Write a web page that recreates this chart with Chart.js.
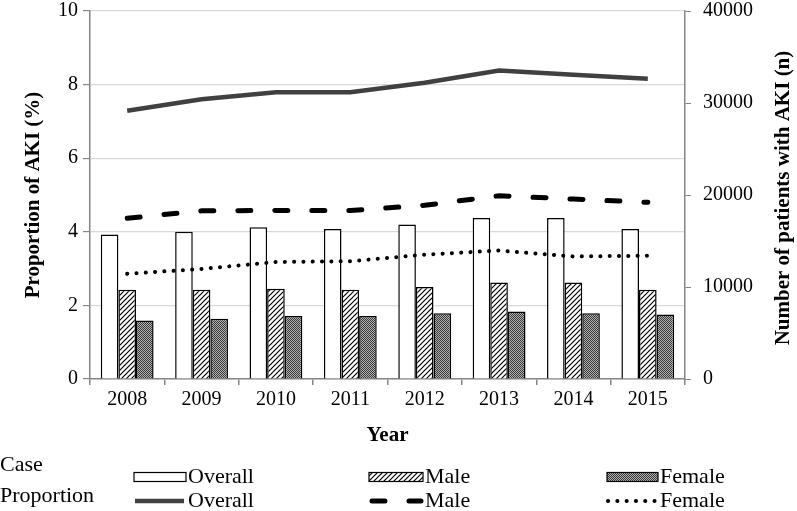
<!DOCTYPE html>
<html>
<head>
<meta charset="utf-8">
<script src="https://cdn.jsdelivr.net/npm/chart.js@4.4.1/dist/chart.umd.min.js"></script>
<style>
    html, body { margin: 0; padding: 0; background: #fff; }
    #wrap { width: 797px; height: 511px; }
</style>
</head>
<body>
<div id="wrap"><canvas id="akiChart" width="797" height="511"></canvas></div>
<script>
// Data
const years = ["2008", "2009", "2010", "2011", "2012", "2013", "2014", "2015"];

// Number of cases (right axis)
const caseOverall = [15700, 16000, 16500, 16300, 16800, 17500, 17500, 16300];
const caseMale = [9700, 9700, 9800, 9700, 10000, 10500, 10500, 9700];
const caseFemale = [6350, 6550, 6850, 6850, 7150, 7350, 7150, 7000];

// Proportion of AKI in % (left axis)
const propOverall = [7.29, 7.6, 7.79, 7.79, 8.05, 8.38, 8.27, 8.16];
const propMale = [4.37, 4.57, 4.58, 4.58, 4.72, 4.98, 4.89, 4.8];
const propFemale = [2.86, 2.99, 3.18, 3.2, 3.38, 3.49, 3.33, 3.35];

const legendRows = ["Case", "Proportion"];
const legendNames = ["Overall", "Male", "Female"];

const serif = '"Liberation Serif", "Times New Roman", serif';
const axisGray = "#868686";

// Motifs pour les barres
function hatchPattern(ctx) {
    const c = document.createElement("canvas");
    c.width = 5; c.height = 5;
    const g = c.getContext("2d");
    g.fillStyle = "#fff";
    g.fillRect(0, 0, 5, 5);
    g.strokeStyle = "#000";
    g.lineWidth = 1.2;
    g.beginPath();
    g.moveTo(-1, 6); g.lineTo(6, -1);
    g.moveTo(-3.5, 3.5); g.lineTo(3.5, -3.5);
    g.moveTo(1.5, 8.5); g.lineTo(8.5, 1.5);
    g.stroke();
    return ctx.createPattern(c, "repeat");
}

function checkerPattern(ctx) {
    const c = document.createElement("canvas");
    c.width = 2; c.height = 2;
    const g = c.getContext("2d");
    g.fillStyle = "#b0b0b0";
    g.fillRect(0, 0, 2, 2);
    g.fillStyle = "#3a3a3a";
    g.fillRect(0, 0, 1, 1);
    g.fillRect(1, 1, 1, 1);
    return ctx.createPattern(c, "repeat");
}

// Legenda e titolo asse destro disegnati a mano
const extrasPlugin = {
    id: "extras",
    afterDraw(chart) {
        const ctx = chart.ctx;
        const ds = chart.data.datasets;
        ctx.save();
        ctx.fillStyle = "#000";
        ctx.textBaseline = "middle";

        // right axis title, reading bottom to top
        ctx.save();
        ctx.translate(784, 198);
        ctx.rotate(-Math.PI / 2);
        ctx.font = "bold 21px " + serif;
        ctx.textAlign = "center";
        ctx.fillText("Number of patients with AKI (n)", 0, 0);
        ctx.restore();

        ctx.font = "22px " + serif;
        ctx.textAlign = "left";
        ctx.fillText(legendRows[0], 0, 465);
        ctx.fillText(legendRows[1], 0, 496);

        const cols = [{ x: 134, w: 52 }, { x: 369, w: 54 }, { x: 607, w: 51 }];
        const row1 = 477, row2 = 501;

        cols.forEach((col, i) => {
            // bar swatch
            const bar = ds[i];
            ctx.fillStyle = bar.backgroundColor;
            ctx.fillRect(col.x, row1 - 4.5, col.w, 9);
            ctx.strokeStyle = "#000";
            ctx.lineWidth = 1.2;
            ctx.strokeRect(col.x, row1 - 4.5, col.w, 9);

            // line swatch
            const line = ds[i + 3];
            ctx.strokeStyle = line.borderColor;
            ctx.lineWidth = line.borderWidth;
            ctx.lineCap = line.borderCapStyle || "butt";
            ctx.setLineDash(line.borderDash || []);
            ctx.beginPath();
            ctx.moveTo(col.x + (i === 1 ? 3 : 1), row2);
            ctx.lineTo(col.x + col.w - 2, row2);
            ctx.stroke();
            ctx.setLineDash([]);

            ctx.fillStyle = "#000";
            ctx.fillText(legendNames[i], col.x + col.w + 2, row1);
            ctx.fillText(legendNames[i], col.x + col.w + 2, row2);
        });
        ctx.restore();
    }
};

function noVerticalPadding(scale) {
    scale.paddingTop = 0;
    scale.paddingBottom = 0;
}

document.addEventListener("DOMContentLoaded", function () {
    const canvas = document.getElementById("akiChart");
    const ctx = canvas.getContext("2d");

    new Chart(ctx, {
        type: "bar",
        data: {
            labels: years,
            datasets: [
                { label: "Overall", data: caseOverall, yAxisID: "yCase", backgroundColor: "#ffffff",
                  borderColor: "#000", borderWidth: 1.5, order: 2 },
                { label: "Male", data: caseMale, yAxisID: "yCase", backgroundColor: hatchPattern(ctx),
                  borderColor: "#000", borderWidth: 1.5, order: 2 },
                { label: "Female", data: caseFemale, yAxisID: "yCase", backgroundColor: checkerPattern(ctx),
                  borderColor: "#000", borderWidth: 1.5, order: 2 },
                { type: "line", label: "Overall", data: propOverall, yAxisID: "yProp", borderColor: "#404040",
                  borderWidth: 4.5, pointRadius: 0, tension: 0, order: 1 },
                { type: "line", label: "Male", data: propMale, yAxisID: "yProp", borderColor: "#000",
                  borderWidth: 5, borderDash: [13, 24], borderCapStyle: "round", pointRadius: 0, tension: 0, order: 1 },
                { type: "line", label: "Female", data: propFemale, yAxisID: "yProp", borderColor: "#000",
                  borderWidth: 4, borderDash: [0.1, 9.2], borderCapStyle: "round", pointRadius: 0, tension: 0, order: 1 }
            ]
        },
        options: {
            responsive: false,
            animation: false,
            events: [],
            layout: { padding: { top: 11, right: 0, bottom: 63, left: 0 } },
            datasets: { bar: { categoryPercentage: 0.71, barPercentage: 1.0 } },
            plugins: { legend: { display: false }, tooltip: { enabled: false } },
            scales: {
                x: {
                    offset: true,
                    grid: { offset: true, drawOnChartArea: false, drawTicks: true, tickLength: 6, tickColor: axisGray, lineWidth: 1.5 },
                    border: { color: axisGray, width: 1.5 },
                    ticks: { color: "#000", padding: 3, font: { family: serif, size: 20 }, maxRotation: 0 },
                    title: { display: true, text: "Year", color: "#000", padding: { top: 0, bottom: 0 },
                             font: { family: serif, size: 21, weight: "bold" } },
                    afterFit(scale) { scale.height = 69; }
                },
                yProp: {
                    position: "left",
                    min: 0, max: 10,
                    ticks: { stepSize: 2, color: "#000", padding: 5, font: { family: serif, size: 20 } },
                    grid: { color: "#d9d9d9", lineWidth: 1.2, drawTicks: true, tickLength: 7, tickColor: axisGray },
                    border: { color: axisGray, width: 1.5 },
                    title: { display: true, text: "Proportion of AKI (%)", color: "#000", padding: { top: 21, bottom: 0 },
                             font: { family: serif, size: 21, weight: "bold" } },
                    afterFit(scale) { scale.width = 90; noVerticalPadding(scale); }
                },
                yCase: {
                    position: "right",
                    min: 0, max: 40000,
                    ticks: { stepSize: 10000, color: "#000", padding: 12, font: { family: serif, size: 20 },
                             callback: value => String(value) },
                    grid: { drawOnChartArea: false, drawTicks: true, tickLength: 6, tickColor: axisGray },
                    border: { color: axisGray, width: 1.5 },
                    afterFit(scale) { scale.width = 112; noVerticalPadding(scale); }
                }
            }
        },
        plugins: [extrasPlugin]
    });
});
</script>
</body>
</html>
